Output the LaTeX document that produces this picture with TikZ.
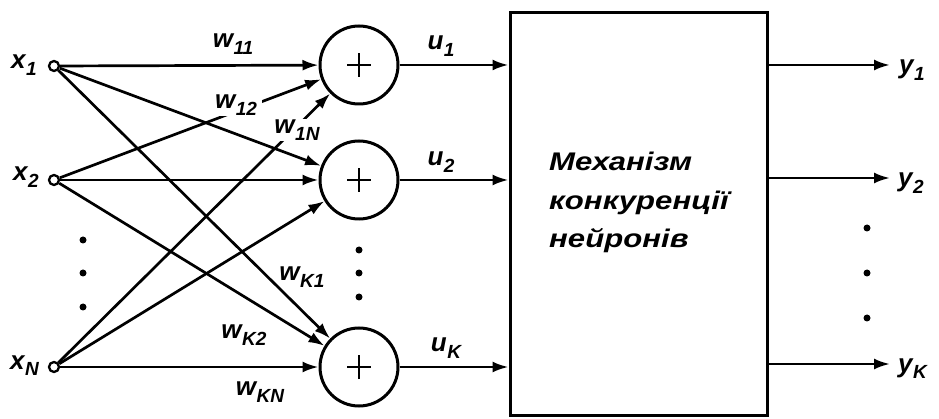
\documentclass[tikz,border=0pt]{standalone}
\usepackage{fontspec}
\setmainfont{Liberation Sans}
\newfontfamily\boxfont{Liberation Sans}[FakeStretch=1.22]
\usetikzlibrary{arrows.meta}
\newcommand{\lb}[2]{#1\kern0.5pt\raisebox{-6.5pt}{\fontsize{19}{19}\selectfont #2}}
\begin{document}
\begin{tikzpicture}[x=1pt,y=-1pt,
  arr/.style={line width=2.7pt,-{Latex[length=16pt,width=11pt]}},
  innode/.style={circle,draw,fill=white,line width=2.3pt,minimum size=10pt,inner sep=0pt},
  sumnode/.style={circle,draw,line width=3pt,minimum size=78pt,inner sep=0pt,
    path picture={
      \draw[line width=2pt] ([xshift=-12pt]path picture bounding box.center) -- ([xshift=12pt]path picture bounding box.center);
      \draw[line width=2pt] ([yshift=-12pt]path picture bounding box.center) -- ([yshift=12pt]path picture bounding box.center);}},
  lab/.style={font=\fontsize{26}{26}\selectfont\bfseries\itshape,inner sep=1pt},
  boxtext/.style={font=\boxfont\fontsize{25.5}{25.5}\selectfont\bfseries\itshape,inner sep=0pt,anchor=base west},
  dotn/.style={circle,fill,inner sep=0pt,minimum size=7pt}
]
\useasboundingbox (0,0) rectangle (939,419);

% inputs
\node[innode] (x1) at (54,66) {};
\node[innode] (x2) at (54,180) {};
\node[innode] (xN) at (54,367) {};
\node[lab,anchor=base west] (lx1) at (10,69) {\lb{x}{1}};
\node[lab,anchor=base west] (lx2) at (12,181) {\lb{x}{2}};
\node[lab,anchor=base west] (lxN) at (9,369) {\lb{x}{N}};

% summing neurons
\node[sumnode] (s1) at (359,65) {};
\node[sumnode] (s2) at (359,180) {};
\node[sumnode] (sK) at (359,367) {};

% competition box
\node[draw,line width=3pt,minimum width=257pt,minimum height=402pt,inner sep=0pt] (box) at (638.5,214) {};
\node[boxtext] (t1) at (549,171) {Механізм};
\node[boxtext] (t2) at (549,209.5) {конкуренції};
\node[boxtext] (t3) at (549,248) {нейронів};

% connections
\draw[arr] (x1) -- (s1);
\draw[arr] (x1) -- (s2);
\draw[arr] (x1) -- (sK);
\draw[arr] (x2) -- (s1);
\draw[arr] (x2) -- (s2);
\draw[arr] (x2) -- (sK);
\draw[arr] (xN) -- (s1);
\draw[arr] (xN) -- (s2);
\draw[arr] (xN) -- (sK);

% weight labels
\node[lab] (w11) at (233,44) {\lb{w}{11}};
\node[lab,fill=white,inner xsep=5pt] (w12) at (236,105) {\lb{w}{12}};
\node[lab,fill=white,inner xsep=3pt] (w1N) at (297,130) {\lb{w}{1N}};
\node[lab] (wK1) at (302,277) {\lb{w}{K1}};
\node[lab] (wK2) at (244,335) {\lb{w}{K2}};
\node[lab] (wKN) at (260,392) {\lb{w}{KN}};

% neuron outputs
\draw[arr] (s1) -- (s1 -| box.west);
\draw[arr] (s2) -- (s2 -| box.west);
\draw[arr] (sK) -- (sK -| box.west);
\node[lab] (u1) at (441,46) {\lb{u}{1}};
\node[lab] (u2) at (441,162) {\lb{u}{2}};
\node[lab] (uK) at (446,348) {\lb{u}{K}};

% outputs
\coordinate (o1) at (890,65);
\coordinate (o2) at (890,178);
\coordinate (oK) at (890,364);
\draw[arr] (box.east |- o1) -- (o1);
\draw[arr] (box.east |- o2) -- (o2);
\draw[arr] (box.east |- oK) -- (oK);
\node[lab,anchor=base west] (ly1) at (898,74) {\lb{y}{1}};
\node[lab,anchor=base west] (ly2) at (897,187) {\lb{y}{2}};
\node[lab,anchor=base west] (lyK) at (897,372) {\lb{y}{K}};

% ellipsis dots
\node[dotn] (di1) at (83,240) {};
\node[dotn] (di2) at (83,273) {};
\node[dotn] (di3) at (83,307) {};
\node[dotn] (ds1) at (359,250) {};
\node[dotn] (ds2) at (359,273) {};
\node[dotn] (ds3) at (359,297) {};
\node[dotn] (do1) at (867,228) {};
\node[dotn] (do2) at (867,273) {};
\node[dotn] (do3) at (867,318) {};
\end{tikzpicture}
\end{document}
